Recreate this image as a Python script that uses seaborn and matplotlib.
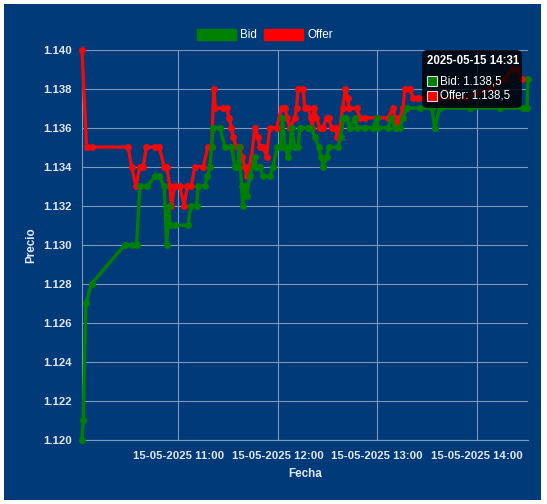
import numpy as np
import pandas as pd
import seaborn as sns
import matplotlib.pyplot as plt
import matplotlib.dates as mdates
from matplotlib.patches import Rectangle, FancyBboxPatch, Patch

# ---- data (15-05-2025) ----
bid_times = ['10:02:00', '10:02:45', '10:04:20', '10:07:45', '10:27:50', '10:31:55', '10:34:55',
             '10:36:55', '10:41:20', '10:46:00', '10:48:30', '10:51:35', '10:53:00', '10:54:35',
             '10:55:00', '10:58:00', '11:06:00', '11:07:40', '11:11:05', '11:12:05', '11:16:05',
             '11:17:30', '11:19:05', '11:20:10', '11:21:05', '11:25:10', '11:28:10', '11:32:10',
             '11:34:10', '11:36:10', '11:36:45', '11:38:15', '11:38:50', '11:40:15', '11:41:15',
             '11:43:15', '11:46:15', '11:46:50', '11:49:15', '11:51:15', '11:55:15', '11:57:15',
             '11:59:40', '12:01:45', '12:02:55', '12:04:20', '12:06:20', '12:07:20', '12:08:25',
             '12:10:20', '12:12:20', '12:13:25', '12:18:25', '12:20:25', '12:22:25', '12:24:50',
             '12:26:05', '12:27:25', '12:29:30', '12:30:50', '12:36:30', '12:38:05', '12:39:30',
             '12:41:30', '12:43:30', '12:46:35', '12:47:35', '12:52:35', '12:57:35', '12:59:40',
             '13:00:35', '13:06:35', '13:08:40', '13:10:40', '13:13:40', '13:15:40', '13:17:45',
             '13:25:45', '13:33:00', '13:34:45', '13:37:50', '13:55:55', '14:14:00', '14:28:00',
             '14:30:20', '14:31:00']
bid_values = [1.120, 1.121, 1.127, 1.128, 1.130, 1.130, 1.130,
              1.133, 1.133, 1.1335, 1.1335, 1.133, 1.130, 1.132,
              1.131, 1.131, 1.131, 1.132, 1.132, 1.133, 1.133,
              1.1335, 1.134, 1.135, 1.136, 1.136, 1.135, 1.135,
              1.134, 1.134, 1.135, 1.133, 1.132, 1.133, 1.1325,
              1.1335, 1.1345, 1.134, 1.134, 1.1335, 1.1335, 1.134,
              1.135, 1.135, 1.1365, 1.135, 1.1345, 1.135, 1.136,
              1.135, 1.135, 1.136, 1.136, 1.136, 1.1355, 1.135,
              1.1345, 1.134, 1.1345, 1.135, 1.135, 1.1355, 1.1365,
              1.1365, 1.136, 1.1365, 1.136, 1.136, 1.136, 1.1365,
              1.136, 1.136, 1.1365, 1.136, 1.136, 1.1365, 1.137,
              1.137, 1.137, 1.136, 1.137, 1.137, 1.137, 1.137,
              1.137, 1.1385]

offer_times = ['10:02:00', '10:04:45', '10:07:45', '10:29:50', '10:31:55', '10:34:30', '10:36:55',
               '10:38:55', '10:40:50', '10:46:00', '10:48:30', '10:51:35', '10:53:00', '10:55:00',
               '10:55:55', '10:58:00', '11:01:00', '11:03:35', '11:05:30', '11:07:55', '11:10:05',
               '11:15:05', '11:17:55', '11:20:10', '11:21:30', '11:22:25', '11:27:10', '11:29:10',
               '11:30:45', '11:32:10', '11:33:10', '11:35:15', '11:37:10', '11:38:15', '11:40:15',
               '11:41:15', '11:42:50', '11:44:15', '11:46:15', '11:48:15', '11:49:15', '11:51:15',
               '11:53:20', '11:55:15', '11:59:20', '12:02:20', '12:04:20', '12:05:45', '12:07:20',
               '12:10:20', '12:11:25', '12:12:20', '12:15:20', '12:16:25', '12:18:25', '12:20:00',
               '12:20:50', '12:22:00', '12:23:25', '12:25:25', '12:27:25', '12:29:30', '12:30:50',
               '12:32:30', '12:34:55', '12:36:05', '12:37:30', '12:39:10', '12:40:55', '12:42:10',
               '12:42:55', '12:47:35', '12:49:35', '12:52:35', '12:59:40', '13:06:35', '13:09:40',
               '13:10:40', '13:11:40', '13:13:40', '13:15:40', '13:16:40', '13:19:45', '13:21:40',
               '13:24:45', '13:27:45', '13:37:50', '13:52:55', '14:07:55', '14:17:00', '14:21:15',
               '14:24:15', '14:27:15', '14:31:00']
offer_values = [1.140, 1.135, 1.135, 1.135, 1.134, 1.133, 1.134,
                1.134, 1.135, 1.135, 1.135, 1.134, 1.134, 1.133,
                1.132, 1.133, 1.133, 1.132, 1.133, 1.133, 1.134,
                1.134, 1.135, 1.135, 1.138, 1.137, 1.137, 1.137,
                1.1365, 1.136, 1.1355, 1.135, 1.135, 1.1345, 1.134,
                1.1335, 1.134, 1.1345, 1.136, 1.1355, 1.135, 1.135,
                1.1345, 1.136, 1.136, 1.137, 1.137, 1.1365, 1.136,
                1.1365, 1.137, 1.138, 1.138, 1.137, 1.137, 1.1365,
                1.136, 1.137, 1.1365, 1.136, 1.136, 1.1365, 1.1365,
                1.136, 1.136, 1.1355, 1.136, 1.137, 1.138, 1.1375,
                1.137, 1.137, 1.1365, 1.1365, 1.1365, 1.1365, 1.137,
                1.1365, 1.136, 1.1365, 1.137, 1.138, 1.138, 1.1375,
                1.1375, 1.1375, 1.1375, 1.1375, 1.138, 1.1385, 1.139,
                1.139, 1.1385, 1.1385]

day = '2025-05-15 '
bid = pd.DataFrame({'Fecha': pd.to_datetime([day + t for t in bid_times]), 'Precio': bid_values})
offer = pd.DataFrame({'Fecha': pd.to_datetime([day + t for t in offer_times]), 'Precio': offer_values})

bg = '#003a78'
grid_c = '#7f97b8'
txt_c = '#e2e6ee'

sns.set_style('white')
plt.rcParams['font.family'] = ['Liberation Sans', 'DejaVu Sans']

fig = plt.figure(figsize=(5.47, 5.04), dpi=100)
fig.patch.set_facecolor('white')
fig.patches.append(Rectangle((4 / 547, 4 / 504), 537 / 547, 496 / 504, transform=fig.transFigure,
                             facecolor=bg, edgecolor='none', zorder=-1))

ax = fig.add_axes([82 / 547, 1 - 440 / 504, 446 / 547, 390.5 / 504])
ax.set_facecolor('none')

sns.lineplot(data=offer, x='Fecha', y='Precio', color='#f00a0a', marker='o', markersize=5,
             markeredgewidth=0, linewidth=2.4, estimator=None, ax=ax, zorder=3)
sns.lineplot(data=bid, x='Fecha', y='Precio', color='#008000', marker='o', markersize=5,
             markeredgewidth=0, linewidth=2.4, estimator=None, ax=ax, zorder=4)
for ln in ax.lines:
    ln.set_clip_on(False)

ax.set_xlim(bid['Fecha'].min(), bid['Fecha'].max())
ax.set_ylim(1.120, 1.140)
ax.set_yticks(np.arange(1.120, 1.1401, 0.002))
ax.yaxis.set_major_formatter(plt.FormatStrFormatter('%.3f'))
ax.xaxis.set_major_locator(mdates.HourLocator())
ax.xaxis.set_major_formatter(mdates.DateFormatter('%d-%m-%Y %H:%M'))

ax.grid(True, color=grid_c, linewidth=0.8)
for s in ['top', 'right']:
    ax.spines[s].set_visible(False)
for s in ['left', 'bottom']:
    ax.spines[s].set_color(grid_c)
    ax.spines[s].set_linewidth(0.8)
ax.tick_params(axis='both', colors=grid_c, length=5, width=0.8, labelcolor=txt_c, labelsize=8.2)
ax.tick_params(axis='y', pad=2.5)
ax.tick_params(axis='x', pad=3)
for lab in ax.get_xticklabels() + ax.get_yticklabels():
    lab.set_fontweight('bold')

ax.set_xlabel('Fecha', color=txt_c, fontsize=8.4, fontweight='bold', labelpad=5)
ax.set_ylabel('Precio', color=txt_c, fontsize=8.4, fontweight='bold', labelpad=4)

handles = [Patch(facecolor='#008000', edgecolor='#008000', label='Bid'),
           Patch(facecolor='#ff0000', edgecolor='#ff0000', label='Offer')]
leg = fig.legend(handles=handles, loc='center', bbox_to_anchor=(265 / 547, 1 - 35 / 504), ncol=2,
                 frameon=False, fontsize=8.4, handlelength=3.3, handleheight=1.1,
                 handletextpad=0.4, columnspacing=0.6)
for t in leg.get_texts():
    t.set_color('white')

# tooltip
W, H = 547, 504
fig.patches.append(FancyBboxPatch((422 / W, 1 - 108 / H), 100 / W, 58 / H,
                                  boxstyle='round,pad=0,rounding_size=0.01',
                                  transform=fig.transFigure, facecolor='black', alpha=0.82,
                                  edgecolor='none', zorder=6))
fig.text(427 / W, 1 - 61 / H, '2025-05-15 14:31', color='white', fontsize=8.3, fontweight='bold',
         va='center', ha='left', zorder=7)
fig.patches.append(Rectangle((427 / W, 1 - 86 / H), 10 / W, 10 / H, transform=fig.transFigure,
                             facecolor='#008000', edgecolor='#dddddd', linewidth=0.8, zorder=7))
fig.patches.append(Rectangle((427 / W, 1 - 101 / H), 10 / W, 10 / H, transform=fig.transFigure,
                             facecolor='#ff0000', edgecolor='#dddddd', linewidth=0.8, zorder=7))
fig.text(440 / W, 1 - 81 / H, 'Bid: 1.138,5', color='white', fontsize=8.3, va='center', ha='left', zorder=7)
fig.text(440 / W, 1 - 96 / H, 'Offer: 1.138,5', color='white', fontsize=8.3, va='center', ha='left', zorder=7)

fig.savefig('out.png', dpi=100)
